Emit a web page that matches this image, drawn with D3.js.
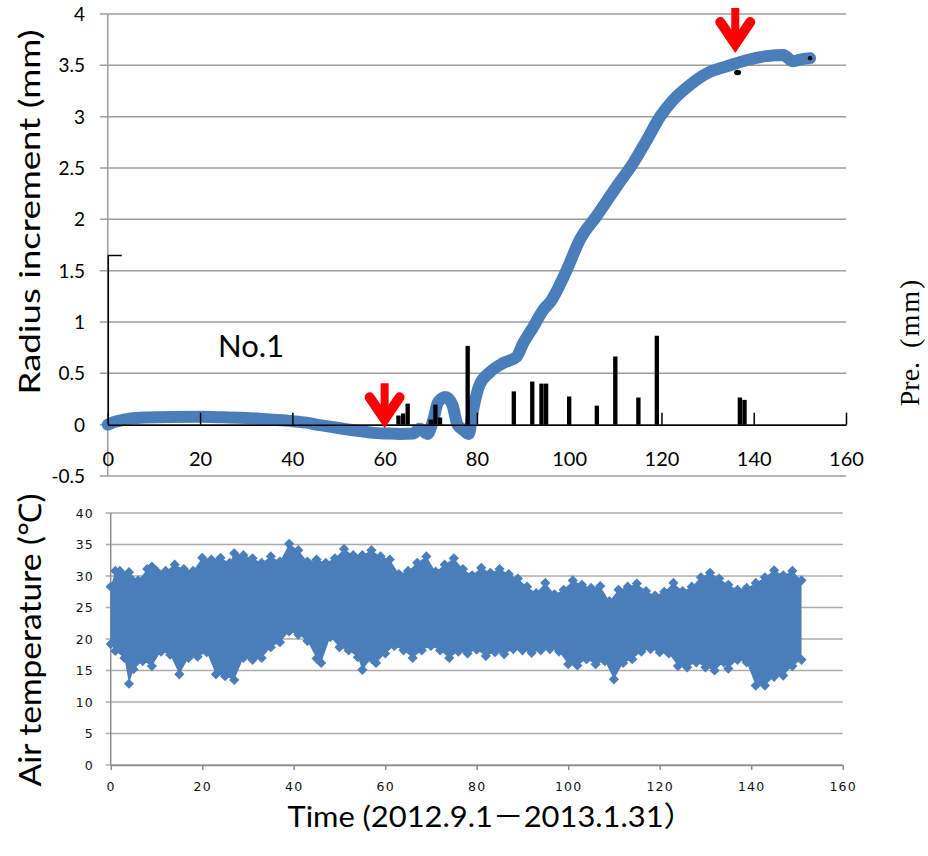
<!DOCTYPE html>
<html>
<head>
<meta charset="utf-8">
<script src="https://cdn.jsdelivr.net/npm/d3@7"></script>
<style>
    body { margin: 0; background: #fff; }
    svg { display: block; }
</style>
</head>
<body>
<div id="chart"></div>
<script>
// radius increment trace (day, mm)
const radiusDays = [0, 1, 2.6, 5, 8.4, 14, 20, 25, 30, 35, 40, 43, 46, 49, 52, 55, 57.5, 60.4, 63.3, 66.2, 67.6, 69.3, 70.5, 71.6, 73.2, 74.7, 75.8, 77, 78.2, 79.2, 80.5, 82.8, 85.7, 88.6, 90, 92.2, 94.4, 96, 99.4, 102.3, 105.9, 110.3, 113.9, 116.8, 119.7, 122.5, 126.2, 129.8, 134.1, 138.4, 142.8, 146.4, 148.5, 150.5, 152.2];
const radiusValues = [0, 0.02, 0.04, 0.06, 0.07, 0.075, 0.076, 0.072, 0.066, 0.05, 0.034, 0.02, -0.005, -0.025, -0.047, -0.065, -0.08, -0.086, -0.09, -0.086, -0.04, -0.09, 0.04, 0.22, 0.27, 0.19, 0.0, -0.05, -0.09, 0.15, 0.38, 0.51, 0.6, 0.66, 0.79, 0.95, 1.12, 1.2, 1.5, 1.8, 2.03, 2.32, 2.55, 2.77, 3.0, 3.16, 3.31, 3.42, 3.49, 3.55, 3.59, 3.6, 3.54, 3.56, 3.57];

// daily precipitation (day, mm)
const rainDays = [63, 64, 65, 70, 71, 72, 78, 88, 92, 94, 95, 100, 106, 110, 115, 119, 137, 138];
const rainValues = [2.7, 3.3, 6.2, 1.5, 5.9, 2.1, 23.2, 9.8, 12.7, 12.1, 12.1, 8.3, 5.6, 20.1, 8.0, 26.2, 8.0, 7.3];

// dark markers sitting on the trace
const darkDays = [136.5, 152.2];
const darkValues = [3.43, 3.57];

// red arrows (day, tip value)
const arrowDays = [60, 136];
const arrowValues = [-0.035, 3.62];

// air temperature envelope (upper and lower edge of the cloud)
const tempMaxDays = [0, 1, 2, 4, 6, 8, 9, 10, 12, 14, 16, 18, 20, 22, 24, 26, 27, 29, 31, 33, 35, 37, 39, 41, 43, 45, 47, 49, 51, 53, 55, 57, 59, 61, 63, 65, 67, 69, 71, 73, 75, 77, 79, 81, 83, 85, 87, 89, 91, 93, 95, 97, 99, 101, 103, 105, 107, 109, 111, 113, 115, 117, 119, 121, 123, 125, 127, 129, 131, 133, 135, 137, 139, 141, 143, 145, 147, 149, 151];
const tempMax = [28.3, 30.8, 30.8, 30.6, 29.3, 31.1, 31.5, 30.8, 30.8, 31.8, 31.1, 30.8, 32.9, 32.6, 32.9, 32.1, 33.6, 33.3, 32.8, 32.1, 33.1, 32.3, 35.1, 34.1, 32.3, 32.6, 32.1, 32.8, 34.3, 33.3, 33.3, 34.1, 33.1, 32.6, 30.3, 30.8, 32.1, 33.1, 30.7, 31.8, 32.8, 31.1, 30.1, 31.3, 30.5, 31.1, 30.3, 29.6, 28.3, 27.3, 28.9, 27.1, 27.8, 29.3, 28.6, 28.1, 28.4, 26.0, 27.8, 28.3, 28.8, 27.6, 26.9, 27.5, 28.9, 27.6, 28.3, 29.8, 30.5, 29.6, 28.6, 27.8, 28.1, 28.9, 29.8, 30.9, 30.1, 30.8, 29.3];
const tempMinDays = [0, 1, 3, 4, 5, 7, 9, 11, 13, 15, 17, 19, 21, 23, 25, 27, 29, 31, 33, 35, 37, 39, 41, 43, 45, 46, 48, 50, 52, 54, 55, 57, 58, 60, 62, 64, 66, 68, 70, 72, 74, 76, 78, 80, 82, 84, 86, 88, 90, 92, 94, 96, 98, 100, 102, 104, 106, 108, 110, 112, 114, 116, 118, 120, 122, 124, 126, 128, 130, 132, 134, 135, 137, 139, 141, 143, 145, 147, 149, 151];
const tempMin = [19.2, 18.1, 17.0, 12.9, 15.2, 16.5, 15.7, 18.0, 17.5, 14.4, 17.0, 17.2, 17.9, 14.4, 14.1, 13.5, 17.0, 16.7, 17.0, 18.7, 19.5, 21.2, 20.7, 19.7, 16.9, 16.2, 20.3, 18.7, 18.2, 17.1, 15.1, 16.9, 16.2, 17.7, 18.9, 18.2, 17.0, 18.2, 18.9, 18.2, 17.0, 18.0, 17.7, 18.3, 17.3, 17.9, 17.6, 18.4, 18.2, 17.8, 18.2, 18.4, 18.0, 16.0, 15.8, 16.8, 16.0, 16.5, 13.6, 16.2, 16.8, 18.0, 18.4, 17.9, 17.7, 15.7, 15.5, 16.3, 15.5, 15.0, 16.3, 15.3, 16.7, 16.3, 12.6, 12.6, 14.0, 14.2, 15.7, 16.7];

// ticks
const timeTicks = [0, 20, 40, 60, 80, 100, 120, 140, 160];
const radiusTicks = [-0.5, 0, 0.5, 1, 1.5, 2, 2.5, 3, 3.5, 4];
const tempTicks = [0, 5, 10, 15, 20, 25, 30, 35, 40];

const blue = '#4a7ebb';
const gridGrey = '#9c9c9c';

const svg = d3.select('#chart')
    .append('svg')
    .attr('width', 928)
    .attr('height', 856);

// ---------- upper panel: radius increment + precipitation ----------
const x1 = d3.scaleLinear().domain([0, 160]).range([107.8, 846]);
const y1 = d3.scaleLinear().domain([-0.5, 4]).range([476, 14]);
const yRain = d3.scaleLinear().domain([0, 50]).range([y1(0), 255]);

// gridlines
svg.append('g')
    .selectAll('line')
    .data(radiusTicks)
    .join('line')
    .attr('x1', x1(0) - 8)
    .attr('x2', x1(160))
    .attr('y1', d => y1(d))
    .attr('y2', d => y1(d))
    .attr('stroke', gridGrey)
    .attr('stroke-width', 1.5);

// left axis line
svg.append('line')
    .attr('x1', x1(0)).attr('x2', x1(0))
    .attr('y1', y1(4)).attr('y2', y1(-0.5))
    .attr('stroke', gridGrey)
    .attr('stroke-width', 1.5);

// left tick labels
svg.append('g')
    .selectAll('text')
    .data(radiusTicks)
    .join('text')
    .attr('x', 85)
    .attr('y', d => y1(d))
    .attr('dy', '0.36em')
    .attr('text-anchor', 'end')
    .attr('font-family', 'Lato, sans-serif')
    .attr('font-size', '19px')
    .text(d => String(d));

// radius trace as a thick band
const radiusLine = d3.line()
    .x((d, i) => x1(radiusDays[i]))
    .y(d => y1(d))
    .curve(d3.curveMonotoneX);

svg.append('path')
    .datum(radiusValues)
    .attr('d', radiusLine)
    .attr('fill', 'none')
    .attr('stroke', blue)
    .attr('stroke-width', 12)
    .attr('stroke-linecap', 'round')
    .attr('stroke-linejoin', 'round');

// dark markers on the trace
svg.append('g')
    .selectAll('ellipse')
    .data(darkValues)
    .join('ellipse')
    .attr('cx', (d, i) => x1(darkDays[i]))
    .attr('cy', d => y1(d))
    .attr('rx', (d, i) => i === 0 ? 3.5 : 2.2)
    .attr('ry', (d, i) => i === 0 ? 2.8 : 2.2)
    .attr('fill', '#000');

// precipitation bars
svg.append('g')
    .selectAll('rect')
    .data(rainValues)
    .join('rect')
    .attr('x', (d, i) => x1(rainDays[i] - 0.47))
    .attr('width', (d, i) => x1(rainDays[i] + 0.47) - x1(rainDays[i] - 0.47))
    .attr('y', d => yRain(d))
    .attr('height', d => yRain(0) - yRain(d))
    .attr('fill', '#000');

// precipitation axis (vertical, no labels)
svg.append('g')
    .attr('transform', `translate(${x1(0)},0)`)
    .call(d3.axisRight(yRain).tickValues([50]).tickSizeInner(14).tickSizeOuter(0).tickFormat(''))
    .call(g => g.selectAll('path, line').attr('stroke', '#000').attr('stroke-width', 1.5));

// time axis sitting on zero
svg.append('g')
    .attr('transform', `translate(0,${y1(0)})`)
    .call(d3.axisBottom(x1).tickValues(timeTicks).tickSizeInner(-12).tickSizeOuter(0).tickPadding(27))
    .call(g => g.selectAll('path, line').attr('stroke', '#000').attr('stroke-width', 1.5))
    .call(g => g.selectAll('text')
        .attr('font-family', 'Lato, sans-serif')
        .attr('font-size', '20px')
        .attr('fill', '#000'));

// red arrows
arrowValues.forEach((v, i) => {
    let cx = x1(arrowDays[i]);
    let ty = y1(v);
    svg.append('line')
        .attr('x1', cx).attr('x2', cx)
        .attr('y1', ty - 45).attr('y2', ty - 12)
        .attr('stroke', '#ff0000')
        .attr('stroke-width', 8);
    svg.append('path')
        .attr('d', `M${cx - 15},${ty - 31}L${cx},${ty - 9}L${cx + 15},${ty - 31}`)
        .attr('fill', 'none')
        .attr('stroke', '#ff0000')
        .attr('stroke-width', 10)
        .attr('stroke-linecap', 'round')
        .attr('stroke-linejoin', 'miter');
});

// panel labels
svg.append('text')
    .attr('x', 218)
    .attr('y', 357)
    .attr('font-family', 'Lato, sans-serif')
    .attr('font-size', '31px')
    .text('No.1');

svg.append('text')
    .attr('transform', 'translate(40,212) rotate(-90)')
    .attr('text-anchor', 'middle')
    .attr('font-family', 'Lato, sans-serif')
    .attr('font-size', '28px')
    .attr('textLength', 365)
    .attr('lengthAdjust', 'spacingAndGlyphs')
    .text('Radius increment (mm)');

// precipitation label on the right, wide gap before the bracket
const preLabel = svg.append('text')
    .attr('transform', 'translate(919,342) rotate(-90)')
    .attr('text-anchor', 'middle')
    .attr('font-family', '"Liberation Serif", serif')
    .attr('font-size', '28px');
preLabel.append('tspan').text('Pre.');
preLabel.append('tspan').attr('dx', 14).attr('letter-spacing', '2px').text('(mm)');

// ---------- lower panel: air temperature ----------
const x2 = d3.scaleLinear().domain([0, 160]).range([110.7, 842.7]);
const y2 = d3.scaleLinear().domain([0, 40]).range([765, 513]);

svg.append('g')
    .selectAll('line')
    .data(tempTicks)
    .join('line')
    .attr('x1', x2(0) - 5)
    .attr('x2', x2(160))
    .attr('y1', d => y2(d))
    .attr('y2', d => y2(d))
    .attr('stroke', '#ababab')
    .attr('stroke-width', 1.5);

svg.append('line')
    .attr('x1', x2(0)).attr('x2', x2(0))
    .attr('y1', y2(40)).attr('y2', y2(0))
    .attr('stroke', '#8c8c8c')
    .attr('stroke-width', 1.5);

svg.append('g')
    .attr('transform', `translate(0,${y2(0)})`)
    .call(d3.axisBottom(x2).tickValues(timeTicks).tickSizeInner(5).tickSizeOuter(0).tickPadding(12))
    .call(g => g.selectAll('path, line').attr('stroke', '#8c8c8c').attr('stroke-width', 1.5))
    .call(g => g.selectAll('text')
        .attr('font-family', '"DejaVu Sans", sans-serif')
        .attr('font-size', '12.5px')
        .attr('letter-spacing', '1.2px')
        .attr('fill', '#111'));

svg.append('g')
    .selectAll('text')
    .data(tempTicks)
    .join('text')
    .attr('x', 94)
    .attr('y', d => y2(d))
    .attr('dy', '0.36em')
    .attr('text-anchor', 'end')
    .attr('font-family', '"DejaVu Sans", sans-serif')
    .attr('font-size', '12.5px')
    .attr('letter-spacing', '1.2px')
    .attr('fill', '#111')
    .text(d => d);

// filled cloud between upper and lower edge
let cloudPoints = tempMaxDays.map((d, i) => [x2(d), y2(tempMax[i])])
    .concat(tempMinDays.map((d, i) => [x2(d), y2(tempMin[i])]).reverse());

svg.append('path')
    .attr('d', d3.line()(cloudPoints) + 'Z')
    .attr('fill', blue);

// diamond markers along the edges
const diamond = d3.symbol().type(d3.symbolSquare).size(52);
svg.append('g')
    .selectAll('path')
    .data(cloudPoints)
    .join('path')
    .attr('d', diamond)
    .attr('transform', d => `translate(${d[0]},${d[1]}) rotate(45)`)
    .attr('fill', blue);

svg.append('text')
    .attr('transform', 'translate(41,640) rotate(-90)')
    .attr('text-anchor', 'middle')
    .attr('font-family', 'Lato, sans-serif')
    .attr('font-size', '31px')
    .attr('textLength', 293)
    .attr('lengthAdjust', 'spacingAndGlyphs')
    .text('Air temperature (℃)');

// time title; the full-width dash and bracket come from the CJK font
const timeTitle = svg.append('text')
    .attr('x', 491)
    .attr('y', 827)
    .attr('text-anchor', 'middle')
    .attr('font-family', 'Lato, sans-serif')
    .attr('font-size', '28px')
    .attr('textLength', 407)
    .attr('lengthAdjust', 'spacingAndGlyphs');
timeTitle.append('tspan').text('Time (2012.9.1');
timeTitle.append('tspan').attr('font-family', '"Noto Sans CJK JP"').text('－');
timeTitle.append('tspan').text('2013.1.31');
timeTitle.append('tspan').attr('font-family', '"Noto Sans CJK JP"').text('）');
</script>
</body>
</html>
